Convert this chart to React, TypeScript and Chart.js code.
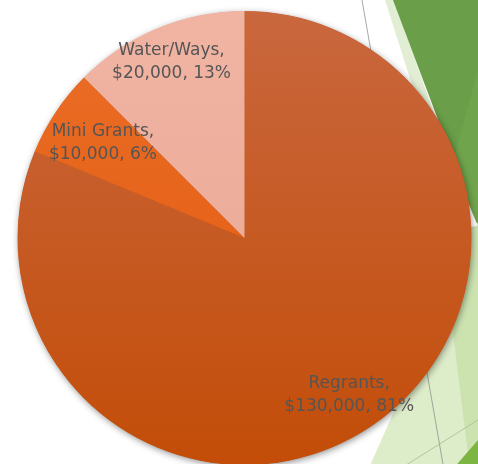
import React, { useEffect, useRef } from "react";
import { Chart, registerables } from "chart.js";

Chart.register(...registerables);

// ---- data ----
const categories: string[] = ["Regrants", "Mini Grants", "Water/Ways"];
const amounts: number[] = [130000, 10000, 20000];

// ---- styles ----
const sliceTop = ["#C9673E", "#EC6E28", "#F1B4A3"];
const sliceBottom = ["#C34D08", "#DF580C", "#E8A592"];
const labelRadiusFactor = [0.83, 0.75, 0.84];
const LABEL_FONT = '17px "DejaVu Sans", sans-serif';
const LABEL_COLOR = "#555555";

const W = 478;
const H = 470;

const backgroundPlugin = {
  id: "slideBackground",
  beforeDraw(chart: any) {
    const ctx = chart.ctx as CanvasRenderingContext2D;
    ctx.save();
    ctx.fillStyle = "#FFFFFF";
    ctx.fillRect(0, 0, W, H);
    const poly = (pts: number[][], color: string) => {
      ctx.beginPath();
      ctx.moveTo(pts[0][0], pts[0][1]);
      for (let i = 1; i < pts.length; i++) ctx.lineTo(pts[i][0], pts[i][1]);
      ctx.closePath();
      ctx.fillStyle = color;
      ctx.fill();
    };
    // pale strip at top
    poly([[385, 0], [394, 0], [440, 130], [420, 110]], "#E2EED4");
    // dark green triangle
    poly([[393, 0], [W, 0], [W, 226]], "#6A9E48");
    poly([[W, 70], [W, 226], [452, 165]], "#70A44C");
    // lower light green region
    poly([[368, H], [W, 222], [W, H]], "#DDECC9");
    // darker band
    poly([[440, 230], [W, 226], [W, H], [470, H]], "#CCE3B0");
    // bright green corner
    poly([[452, H], [W, H], [W, 440]], "#7DB543");
    // thin lines
    ctx.lineWidth = 1;
    ctx.strokeStyle = "rgba(140,150,140,0.8)";
    ctx.beginPath();
    ctx.moveTo(362, 0);
    ctx.lineTo(444, H);
    ctx.stroke();
    ctx.strokeStyle = "rgba(170,195,150,0.9)";
    ctx.beginPath();
    ctx.moveTo(398, H);
    ctx.lineTo(W, 420);
    ctx.stroke();
    ctx.restore();
  },
};

const shadowPlugin = {
  id: "pieShadow",
  beforeDatasetsDraw(chart: any) {
    const meta = chart.getDatasetMeta(0);
    const arc = meta.data[0];
    if (!arc) return;
    const ctx = chart.ctx as CanvasRenderingContext2D;
    ctx.save();
    ctx.shadowColor = "rgba(0,0,0,0.45)";
    ctx.shadowBlur = 7;
    ctx.shadowOffsetX = 1;
    ctx.shadowOffsetY = 2;
    ctx.beginPath();
    ctx.arc(arc.x, arc.y, arc.outerRadius - 0.5, 0, Math.PI * 2);
    ctx.fillStyle = "#C55510";
    ctx.fill();
    ctx.restore();
  },
};

const labelPlugin = {
  id: "sliceLabels",
  afterDatasetsDraw(chart: any) {
    const meta = chart.getDatasetMeta(0);
    const ctx = chart.ctx as CanvasRenderingContext2D;
    const total = amounts.reduce((a, b) => a + b, 0);
    ctx.save();
    ctx.font = LABEL_FONT;
    ctx.fillStyle = LABEL_COLOR;
    ctx.textAlign = "center";
    ctx.textBaseline = "middle";
    meta.data.forEach((arc: any, i: number) => {
      const mid = (arc.startAngle + arc.endAngle) / 2;
      const r = arc.outerRadius * labelRadiusFactor[i];
      const x = arc.x + Math.cos(mid) * r;
      const y = arc.y + Math.sin(mid) * r;
      const pct = Math.round((amounts[i] / total) * 100);
      const line1 = categories[i] + ",";
      const line2 = "$" + amounts[i].toLocaleString("en-US") + ", " + pct + "%";
      ctx.fillText(line1, x, y - 11.5);
      ctx.fillText(line2, x, y + 11.5);
    });
    ctx.restore();
  },
};

export default function App() {
  const ref = useRef<HTMLCanvasElement>(null);
  useEffect(() => {
    document.body.style.margin = "0";
    const canvas = ref.current!;
    const chart = new Chart(canvas, {
      type: "pie",
      data: {
        labels: categories,
        datasets: [
          {
            data: amounts,
            borderWidth: 0,
            backgroundColor: (c: any) => {
              const area = c.chart.chartArea;
              const i = c.dataIndex ?? 0;
              if (!area) return sliceBottom[i];
              const g = c.chart.ctx.createLinearGradient(0, area.top, 0, area.bottom);
              g.addColorStop(0, sliceTop[i]);
              g.addColorStop(1, sliceBottom[i]);
              return g;
            },
          },
        ],
      },
      options: {
        responsive: false,
        animation: false,
        layout: { padding: { top: 11, bottom: 5, left: 17, right: 6 } },
        plugins: {
          legend: { display: false },
          tooltip: { enabled: false },
        },
      },
      plugins: [backgroundPlugin, shadowPlugin, labelPlugin],
    } as any);
    return () => chart.destroy();
  }, []);
  return (
    <div style={{ width: W, height: 464, overflow: "hidden" }}>
      <canvas ref={ref} width={W} height={H} style={{ display: "block", width: W, height: H }} />
    </div>
  );
}
